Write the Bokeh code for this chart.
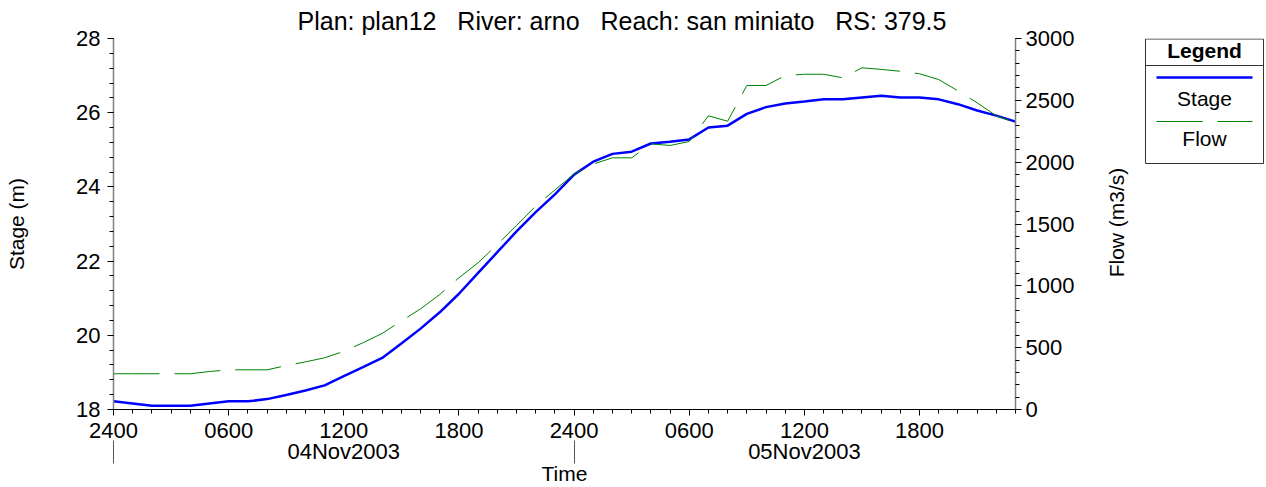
import math
from bokeh.plotting import figure
from bokeh.models import Range1d, LinearAxis, FixedTicker, ColumnDataSource, Title
from bokeh.layouts import row
from bokeh.core.properties import value
from bokeh.embed import file_html
from bokeh.resources import INLINE

FONT = "Liberation Sans"
FS = "21px"
TICK_FS = "22px"

# hours since 2400 03Nov2003 (= 0000 04Nov2003)
hours = [0, 1, 2, 3, 4, 5, 6, 7, 8, 9, 10, 11, 12, 13, 14, 15, 16, 17, 18, 19,
         20, 21, 22, 23, 24, 25, 26, 27, 28, 29, 30, 31, 32, 33, 34, 35, 36, 37,
         38, 39, 40, 41, 42, 43, 44, 45, 46, 47]
stage = [18.22, 18.16, 18.10, 18.10, 18.10, 18.16, 18.22, 18.22, 18.28, 18.39,
         18.51, 18.65, 18.90, 19.14, 19.39, 19.78, 20.18, 20.62, 21.12, 21.68,
         22.24, 22.80, 23.32, 23.80, 24.33, 24.68, 24.89, 24.95, 25.17, 25.22,
         25.28, 25.60, 25.65, 25.97, 26.15, 26.25, 26.30, 26.36, 26.36, 26.41,
         26.46, 26.41, 26.41, 26.36, 26.23, 26.06, 25.92, 25.76]
flow = [289, 289, 289, 289, 289, 307, 321, 321, 321, 355,
        385, 418, 470, 540, 615, 715, 814, 930, 1065, 1187,
        1335, 1488, 1645, 1775, 1905, 1985, 2035, 2035, 2148, 2135,
        2167, 2375, 2331, 2620, 2620, 2700, 2711, 2711, 2682, 2763,
        2750, 2735, 2715, 2668, 2577, 2480, 2375, 2320]

x_tick_hours = [0, 6, 12, 18, 24, 30, 36, 42]
x_tick_labels = ["2400", "0600", "1200", "1800", "2400", "0600", "1200", "1800"]
day_label_hours = [12, 36]
day_labels = ["04Nov2003", "05Nov2003"]
day_boundaries = [0, 24]
stage_ticks = [18, 20, 22, 24, 26, 28]
flow_ticks = [0, 500, 1000, 1500, 2000, 2500, 3000]
NB = "\u00a0\u00a0\u00a0"
title_text = "Plan: plan12" + NB + "River: arno" + NB + "Reach: san miniato" + NB + "RS: 379.5"

H = 487
source = ColumnDataSource(dict(hour=hours, stage=stage, flow=flow))

p = figure(width=1077, height=H, x_range=Range1d(0, 47), y_range=Range1d(18, 28),
           x_axis_type=None, y_axis_type=None,
           output_backend="svg", toolbar_location=None,
           min_border_left=113, min_border_right=60, min_border_top=38,
           min_border_bottom=78)
p.outline_line_color = None
p.extra_y_ranges = {"flow": Range1d(0, 3000)}

p.title = Title(text=title_text, align="left", offset=184, text_font=FONT,
                text_font_size="25px", text_font_style="normal", text_color="black",
                standoff=8)


def style_ticks(ax):
    ax.major_label_text_font = FONT
    ax.major_label_text_font_size = TICK_FS
    ax.major_label_text_color = "black"
    ax.axis_label_text_font = FONT
    ax.axis_label_text_font_size = FS
    ax.axis_label_text_font_style = "normal"
    ax.axis_label_text_color = "black"
    ax.major_tick_in = 0
    ax.minor_tick_in = 0
    ax.major_tick_out = 6
    ax.minor_tick_out = 4
    ax.major_tick_line_color = "black"
    ax.minor_tick_line_color = "black"


xaxis = LinearAxis(ticker=FixedTicker(ticks=x_tick_hours, minor_ticks=hours),
                   major_label_overrides={h: l for h, l in zip(x_tick_hours, x_tick_labels)})
style_ticks(xaxis)
xaxis.axis_line_color = "black"
xaxis.major_label_standoff = 7
p.add_layout(xaxis, "below")

dayaxis = LinearAxis(ticker=FixedTicker(ticks=day_label_hours, minor_ticks=day_boundaries),
                     major_label_overrides={h: l for h, l in zip(day_label_hours, day_labels)},
                     axis_label="Time")
style_ticks(dayaxis)
dayaxis.axis_line_color = None
dayaxis.major_tick_line_color = None
dayaxis.major_tick_out = 0
dayaxis.minor_tick_in = -23
dayaxis.minor_tick_out = 0
dayaxis.minor_tick_line_color = "#555555"
dayaxis.major_label_standoff = -2
dayaxis.axis_label_standoff = -5
p.add_layout(dayaxis, "below")

stage_minor = [18 + 0.4 * i for i in range(26)]
yaxis = LinearAxis(ticker=FixedTicker(ticks=stage_ticks, minor_ticks=stage_minor),
                   axis_label="Stage (m)")
style_ticks(yaxis)
yaxis.axis_line_color = "#808080"
yaxis.axis_line_width = 1.5
yaxis.major_label_standoff = 7
yaxis.axis_label_standoff = 45
p.add_layout(yaxis, "left")

flow_minor = [100 * i for i in range(31)]
faxis = LinearAxis(y_range_name="flow",
                   ticker=FixedTicker(ticks=flow_ticks, minor_ticks=flow_minor))
style_ticks(faxis)
faxis.axis_line_color = "#808080"
faxis.axis_line_width = 1.5
faxis.major_label_standoff = 4
p.add_layout(faxis, "right")

p.line("hour", "stage", source=source, line_color="#0000FF", line_width=2.5)
p.line("hour", "flow", source=source, y_range_name="flow", line_color="#008000",
       line_width=1, line_dash="46 15")

# side panel: flow axis title + legend box (its frame is aligned with the main frame,
# so y below is measured as 487 - page_y)
lg = figure(width=189, height=H, x_range=Range1d(0, 189), y_range=Range1d(78, 449),
            x_axis_type=None, y_axis_type=None, output_backend="svg",
            toolbar_location=None, min_border=0)
lg.outline_line_color = None
lg.text(x=[39], y=[265], text=["Flow (m3/s)"], angle=math.pi / 2,
        text_font=value(FONT), text_font_size=FS, text_align="center",
        text_baseline="middle", text_color="black")
lg.quad(left=[68], right=[186], top=[448.5], bottom=[324], fill_color="white",
        line_color="#333333", line_width=1)
lg.segment(x0=[68], x1=[186], y0=[422], y1=[422], line_color="#333333", line_width=1)
lg.text(x=[127], y=[437], text=["Legend"], text_font=value(FONT), text_font_size=FS,
        text_font_style="bold", text_align="center", text_baseline="middle",
        text_color="black")
lg.segment(x0=[79], x1=[175], y0=[410], y1=[410], line_color="#0000FF", line_width=2.5)
lg.text(x=[127], y=[389], text=["Stage"], text_font=value(FONT), text_font_size=FS,
        text_align="center", text_baseline="middle", text_color="black")
lg.segment(x0=[79], x1=[175], y0=[366], y1=[366], line_color="#008000", line_width=1,
           line_dash="46 15")
lg.text(x=[127], y=[349], text=["Flow"], text_font=value(FONT), text_font_size=FS,
        text_align="center", text_baseline="middle", text_color="black")

layout = row(p, lg)
open("out.html", "w").write(file_html(layout, INLINE))
